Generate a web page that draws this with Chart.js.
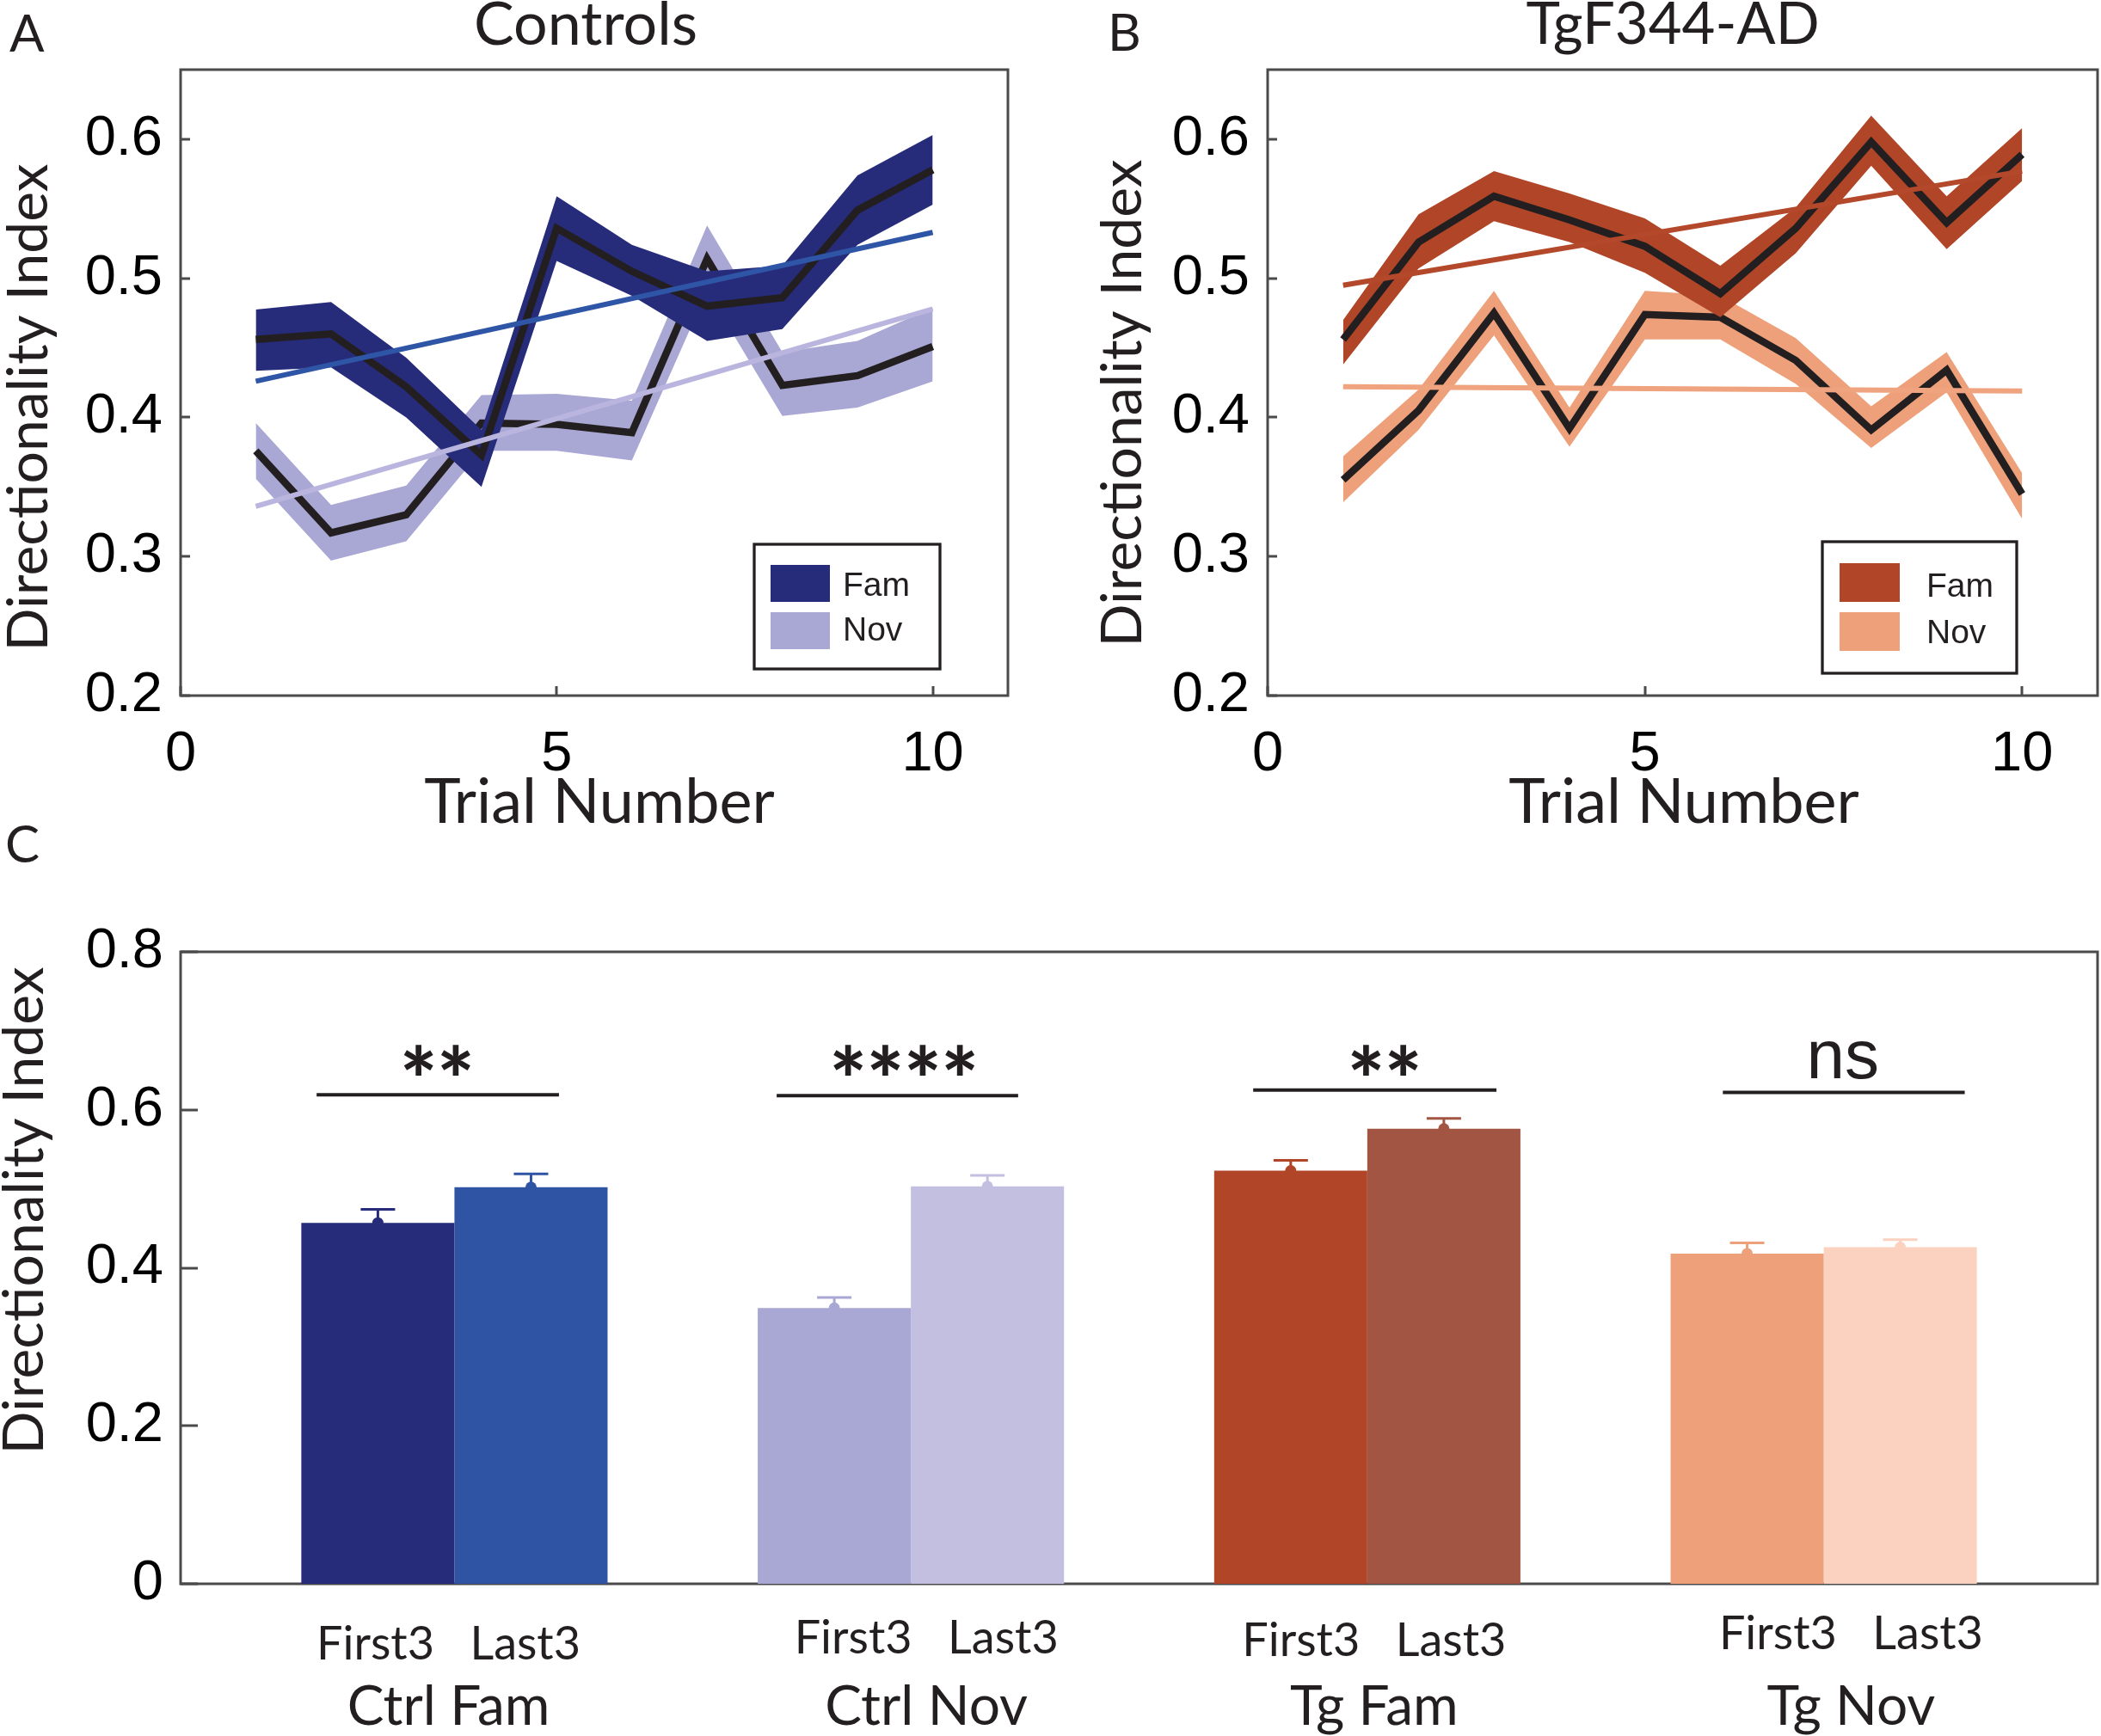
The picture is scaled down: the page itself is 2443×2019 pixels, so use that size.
<!DOCTYPE html>
<html>
<head>
<meta charset="utf-8">
<script src="https://cdn.jsdelivr.net/npm/chart.js@4.4.1/dist/chart.umd.min.js"></script>
<style>
html,body{margin:0;padding:0;background:#fff;}
body{width:2443px;height:2019px;position:relative;overflow:hidden;}
canvas{position:absolute;display:block;}
</style>
</head>
<body>
<canvas id="cA" width="1222" height="1000" style="left:0;top:0;width:1222px;height:1000px"></canvas>
<canvas id="cB" width="1221" height="1000" style="left:1222px;top:0;width:1221px;height:1000px"></canvas>
<canvas id="cC" width="2443" height="1079" style="left:0;top:940px;width:2443px;height:1079px"></canvas>
<script>
// ================= DATA =================
const trials = [1, 2, 3, 4, 5, 6, 7, 8, 9, 10];
const trendTrials = [1, 10];
const lineXTicks = [0, 5, 10];
const lineXTickLabels = ['0', '5', '10'];
const lineYTicks = [0.2, 0.3, 0.4, 0.5, 0.6];
const lineYTickLabels = ['0.2', '0.3', '0.4', '0.5', '0.6'];

// Panel A - Controls
const ctrlFamMean  = [0.456, 0.460, 0.422, 0.373, 0.536, 0.505, 0.480, 0.486, 0.549, 0.578];
const ctrlFamUpper = [0.4775, 0.483, 0.443, 0.391, 0.559, 0.524, 0.505, 0.509, 0.574, 0.603];
const ctrlFamLower = [0.4335, 0.436, 0.400, 0.350, 0.5125, 0.4875, 0.455, 0.4635, 0.524, 0.553];
const ctrlNovMean  = [0.376, 0.317, 0.330, 0.396, 0.395, 0.389, 0.514, 0.423, 0.430, 0.451];
const ctrlNovUpper = [0.396, 0.337, 0.351, 0.416, 0.417, 0.412, 0.538, 0.447, 0.455, 0.479];
const ctrlNovLower = [0.356, 0.297, 0.311, 0.376, 0.376, 0.369, 0.491, 0.401, 0.407, 0.426];
const ctrlFamTrend = [0.426, 0.533];
const ctrlNovTrend = [0.336, 0.478];

// Panel B - TgF344-AD
const tgFamMean  = [0.456, 0.526, 0.559, 0.542, 0.523, 0.489, 0.536, 0.598, 0.540, 0.589];
const tgFamUpper = [0.470, 0.546, 0.577, 0.561, 0.543, 0.509, 0.551, 0.617, 0.559, 0.608];
const tgFamLower = [0.438, 0.507, 0.541, 0.526, 0.504, 0.472, 0.518, 0.581, 0.521, 0.570];
const tgNovMean  = [0.355, 0.405, 0.475, 0.392, 0.474, 0.472, 0.441, 0.391, 0.434, 0.345];
const tgNovUpper = [0.372, 0.420, 0.491, 0.407, 0.491, 0.4875, 0.457, 0.408, 0.447, 0.360];
const tgNovLower = [0.339, 0.391, 0.459, 0.379, 0.456, 0.456, 0.424, 0.378, 0.418, 0.327];
const tgFamTrend = [0.495, 0.577];
const tgNovTrend = [0.422, 0.419];
const legendLabels = ['Fam', 'Nov'];

// Panel C - bars
const barGroups = ['Ctrl Fam', 'Ctrl Nov', 'Tg Fam', 'Tg Nov'];
const barGroupX = [1, 2, 3, 4];
const barSubLabels = ['First3', 'Last3'];
const first3Mean = [0.457, 0.349, 0.523, 0.418];
const first3Sem  = [0.017, 0.0135, 0.013, 0.0136];
const last3Mean  = [0.502, 0.503, 0.576, 0.426];
const last3Sem   = [0.017, 0.014, 0.013, 0.0096];
const barYTicks = [0, 0.2, 0.4, 0.6, 0.8];
const barYTickLabels = ['0', '0.2', '0.4', '0.6', '0.8'];
const sigLabels = ['**', '****', '**', 'ns'];
const sigStart  = [0.698, 1.706, 2.750, 3.779];
const sigEnd    = [1.229, 2.235, 3.283, 4.309];
const sigLevel  = [0.619, 0.618, 0.625, 0.622];

// ================= STYLE / LAYOUT =================
const F_LAB = 'Lato, "Open Sans", sans-serif';
const F_TICK = '"Liberation Sans Narrow", "Liberation Sans", Arial, sans-serif';
const F_LEG = '"Liberation Sans", Arial, sans-serif';
const TXT = '#231f20';
const AXIS_COLOR = '#4a4a4a';
const MEAN_COLOR = '#231f20';

const colA = {fam: '#262b7a', nov: '#a9a7d4', famTrend: '#2f55a6', novTrend: '#b9b5de'};
const colB = {fam: '#b04627', nov: '#eda079', famTrend: '#b4482b', novTrend: '#efa47f'};
const first3Colors = ['#262b7a', '#a9a7d4', '#b04627', '#eda079'];
const last3Colors  = ['#3054a4', '#c3bfe0', '#a15542', '#fbd1c0'];

const groupLabelX = [0.987, 2.034, 3.015, 4.06];
const subLabelBaseline = [990, 983, 986, 978];
const groupLabelBaseline = 1066;
const sigTextX = [0.962, 1.985, 3.038, 4.042];
const sigTextY = 0.663;

function font(size, weight, fam) { return (weight || 'normal') + ' ' + size + 'px ' + fam; }

function drawText(ctx, t) {
  ctx.save();
  ctx.fillStyle = t.color || TXT;
  ctx.font = t.font;
  ctx.textAlign = t.align || 'center';
  ctx.textBaseline = 'alphabetic';
  ctx.translate(t.x, t.y);
  if (t.rot) ctx.rotate(t.rot);
  ctx.fillText(t.t, 0, 0);
  ctx.restore();
}

function framePlugin(tickLen, xTicks) {
  return {
    id: 'frame',
    beforeDatasetsDraw(chart) {
      const {ctx, chartArea: a, scales: {x, y}} = chart;
      ctx.save();
      ctx.strokeStyle = AXIS_COLOR;
      ctx.lineWidth = 3;
      ctx.beginPath();
      y.ticks.forEach(tk => {
        const py = Math.round(y.getPixelForValue(tk.value));
        ctx.moveTo(a.left, py); ctx.lineTo(a.left + tickLen, py);
      });
      if (xTicks) {
        x.ticks.forEach(tk => {
          const px = Math.round(x.getPixelForValue(tk.value));
          ctx.moveTo(px, a.bottom); ctx.lineTo(px, a.bottom - tickLen);
        });
      }
      ctx.stroke();
      ctx.strokeRect(a.left, a.top, a.right - a.left, a.bottom - a.top);
      ctx.restore();
    }
  };
}

function textPlugin(texts) {
  return { id: 'texts', afterDraw(chart) { texts.forEach(t => drawText(chart.ctx, t)); } };
}

function legendPlugin(L, colors) {
  return {
    id: 'boxlegend',
    afterDatasetsDraw(chart) {
      const ctx = chart.ctx;
      ctx.save();
      ctx.fillStyle = '#fff';
      ctx.fillRect(L.x, L.y, L.w, L.h);
      ctx.strokeStyle = TXT; ctx.lineWidth = 3.3;
      ctx.strokeRect(L.x, L.y, L.w, L.h);
      [colors.fam, colors.nov].forEach((c, i) => {
        ctx.fillStyle = c;
        ctx.fillRect(L.px, L.py[i], L.pw, L.ph);
        ctx.fillStyle = TXT;
        ctx.font = font(39, 'normal', F_LEG);
        ctx.textAlign = 'left'; ctx.textBaseline = 'alphabetic';
        ctx.fillText(legendLabels[i], L.tx, L.ty[i]);
      });
      ctx.restore();
    }
  };
}

function makeLineChart(id, d, L) {
  const P = arr => trials.map((t, i) => ({x: t, y: arr[i]}));
  const T = arr => trendTrials.map((t, i) => ({x: t, y: arr[i]}));
  const band = (arr, target, color, order) => ({
    data: P(arr), fill: target === null ? false : {target: target},
    backgroundColor: color, borderColor: 'rgba(0,0,0,0)', borderWidth: 0,
    pointRadius: 0, pointHoverRadius: 0, tension: 0, order: order
  });
  const line = (data, color, w, order) => ({
    data: data, fill: false, borderColor: color, borderWidth: w, pointRadius: 0,
    pointHoverRadius: 0, tension: 0, borderJoinStyle: 'miter', borderCapStyle: 'butt', order: order
  });
  const datasets = [
    band(d.novHi, 1, d.col.nov, 10),
    band(d.novLo, null, d.col.nov, 11),
    line(P(d.novMean), MEAN_COLOR, 8.5, 9),
    band(d.famHi, 4, d.col.fam, 8),
    band(d.famLo, null, d.col.fam, 8.5),
    line(P(d.famMean), MEAN_COLOR, 8.5, 7),
    line(T(d.novTrend), d.col.novTrend, 6, 6),
    line(T(d.famTrend), d.col.famTrend, 6, 5)
  ];
  return new Chart(document.getElementById(id), {
    type: 'line',
    data: {datasets: datasets},
    options: {
      responsive: false, animation: false, devicePixelRatio: 1, events: [],
      layout: {padding: {left: 0, top: L.top, right: L.right, bottom: 0}},
      plugins: {legend: {display: false}, tooltip: {enabled: false}, title: {display: false}},
      scales: {
        x: {
          type: 'linear', min: 0, max: 11, offset: false,
          grid: {display: false, drawTicks: false}, border: {display: false},
          afterBuildTicks: s => { s.ticks = lineXTicks.map(v => ({value: v})); },
          afterFit: s => { s.height = L.xH; },
          ticks: {autoSkip: false, maxRotation: 0, minRotation: 0, padding: 30, color: '#000',
                  font: {family: F_TICK, size: 65}, callback: (v, i) => lineXTickLabels[i]}
        },
        y: {
          type: 'linear', min: 0.2, max: 0.65,
          grid: {display: false, drawTicks: false}, border: {display: false},
          afterBuildTicks: s => { s.ticks = lineYTicks.map(v => ({value: v})); },
          afterFit: s => { s.width = L.yW; },
          ticks: {autoSkip: false, padding: 21, color: '#000',
                  font: {family: F_TICK, size: 65}, callback: (v, i) => lineYTickLabels[i]}
        }
      }
    },
    plugins: [framePlugin(11, true), legendPlugin(L.legend, d.col), textPlugin(L.texts)]
  });
}

// Panel A
makeLineChart('cA', {
  famMean: ctrlFamMean, famHi: ctrlFamUpper, famLo: ctrlFamLower,
  novMean: ctrlNovMean, novHi: ctrlNovUpper, novLo: ctrlNovLower,
  famTrend: ctrlFamTrend, novTrend: ctrlNovTrend, col: colA
}, {
  top: 81, right: 50, yW: 210, xH: 191,
  legend: {x: 877, y: 633, w: 216, h: 145, px: 896, pw: 69, ph: 43, py: [657, 712], tx: 980, ty: [693, 745]},
  texts: [
    {t: 'A', x: 11, y: 60, font: font(60, 'normal', F_LAB), align: 'left'},
    {t: 'Controls', x: 681, y: 52, font: font(70, 'normal', F_LAB)},
    {t: 'Trial Number', x: 697, y: 957, font: font(72, 'normal', F_LAB)},
    {t: 'Directionality Index', x: 55, y: 474, rot: -Math.PI / 2, font: font(66, 'normal', F_LAB)}
  ]
});

// Panel B
makeLineChart('cB', {
  famMean: tgFamMean, famHi: tgFamUpper, famLo: tgFamLower,
  novMean: tgNovMean, novHi: tgNovUpper, novLo: tgNovLower,
  famTrend: tgFamTrend, novTrend: tgNovTrend, col: colB
}, {
  top: 81, right: 4, yW: 252, xH: 191,
  legend: {x: 897, y: 630, w: 226, h: 153, px: 917, pw: 70, ph: 45, py: [655, 712], tx: 1018, ty: [694, 748]},
  texts: [
    {t: 'B', x: 66, y: 59, font: font(60, 'normal', F_LAB), align: 'left'},
    {t: 'TgF344-AD', x: 723, y: 51, font: font(67, 'normal', F_LAB)},
    {t: 'Trial Number', x: 736, y: 957, font: font(72, 'normal', F_LAB)},
    {t: 'Directionality Index', x: 105, y: 469, rot: -Math.PI / 2, font: font(66, 'normal', F_LAB)}
  ]
});

// Panel C
const barDecor = {
  id: 'barDecor',
  afterDatasetsDraw(chart) {
    const {ctx, scales: {x, y}} = chart;
    const sets = [{m: first3Mean, s: first3Sem, c: first3Colors}, {m: last3Mean, s: last3Sem, c: last3Colors}];
    ctx.save();
    sets.forEach((st, d) => {
      const meta = chart.getDatasetMeta(d);
      meta.data.forEach((bar, i) => {
        const px = bar.x, pm = y.getPixelForValue(st.m[i]), pt = y.getPixelForValue(st.m[i] + st.s[i]);
        ctx.strokeStyle = st.c[i]; ctx.fillStyle = st.c[i]; ctx.lineWidth = 3;
        ctx.beginPath();
        ctx.moveTo(px, pm); ctx.lineTo(px, pt);
        ctx.moveTo(px - 20, pt); ctx.lineTo(px + 20, pt);
        ctx.stroke();
        ctx.beginPath(); ctx.arc(px, pm, 6.5, 0, Math.PI * 2); ctx.fill();
      });
    });
    // significance
    sigLabels.forEach((lab, i) => {
      const yy = y.getPixelForValue(sigLevel[i]);
      ctx.strokeStyle = TXT; ctx.lineWidth = 4;
      ctx.beginPath(); ctx.moveTo(x.getPixelForValue(sigStart[i]), yy); ctx.lineTo(x.getPixelForValue(sigEnd[i]), yy); ctx.stroke();
      ctx.fillStyle = TXT;
      ctx.font = lab === 'ns' ? font(80, 'normal', F_LEG) : font(102, '900', F_LAB);
      ctx.textAlign = 'center'; ctx.textBaseline = 'alphabetic';
      const m = ctx.measureText(lab);
      const yc = y.getPixelForValue(sigTextY);
      const base = yc + (m.actualBoundingBoxAscent - m.actualBoundingBoxDescent) / 2;
      ctx.fillText(lab, x.getPixelForValue(sigTextX[i]), base);
    });
    // group labels
    barGroups.forEach((g, i) => {
      const gx = x.getPixelForValue(groupLabelX[i]);
      drawText(ctx, {t: barSubLabels[0] + '   ' + barSubLabels[1], x: gx, y: subLabelBaseline[i], font: font(54, 'normal', F_LAB)});
      drawText(ctx, {t: g, x: gx, y: groupLabelBaseline, font: font(64, 'normal', F_LAB)});
    });
    ctx.restore();
  }
};

new Chart(document.getElementById('cC'), {
  type: 'bar',
  data: {
    datasets: [
      {label: barSubLabels[0], data: barGroupX.map((gx, i) => ({x: gx, y: first3Mean[i]})), backgroundColor: first3Colors,
       borderWidth: 0, categoryPercentage: 0.671, barPercentage: 1.0},
      {label: barSubLabels[1], data: barGroupX.map((gx, i) => ({x: gx, y: last3Mean[i]})), backgroundColor: last3Colors,
       borderWidth: 0, categoryPercentage: 0.671, barPercentage: 1.0}
    ]
  },
  options: {
    responsive: false, animation: false, devicePixelRatio: 1, events: [],
    layout: {padding: {left: 0, top: 167, right: 4, bottom: 0}},
    plugins: {legend: {display: false}, tooltip: {enabled: false}},
    scales: {
      x: {
        type: 'linear', min: 0.4, max: 4.6, offset: false,
        grid: {display: false, drawTicks: false}, border: {display: false},
        afterBuildTicks: s => { s.ticks = barGroupX.map(v => ({value: v})); },
        afterFit: s => { s.height = 177; },
        ticks: {display: false}
      },
      y: {
        type: 'linear', min: 0, max: 0.8,
        grid: {display: false, drawTicks: false}, border: {display: false},
        afterBuildTicks: s => { s.ticks = barYTicks.map(v => ({value: v})); },
        afterFit: s => { s.width = 210; },
        ticks: {autoSkip: false, padding: 20, color: '#000', font: {family: F_TICK, size: 65},
                callback: (v, i) => barYTickLabels[i]}
      }
    }
  },
  plugins: [framePlugin(20, false), barDecor, textPlugin([
    {t: 'C', x: 6, y: 63, font: font(60, 'normal', F_LAB), align: 'left'},
    {t: 'Directionality Index', x: 50, y: 468, rot: -Math.PI / 2, font: font(66, 'normal', F_LAB)}
  ])]
});
</script>
</body>
</html>
